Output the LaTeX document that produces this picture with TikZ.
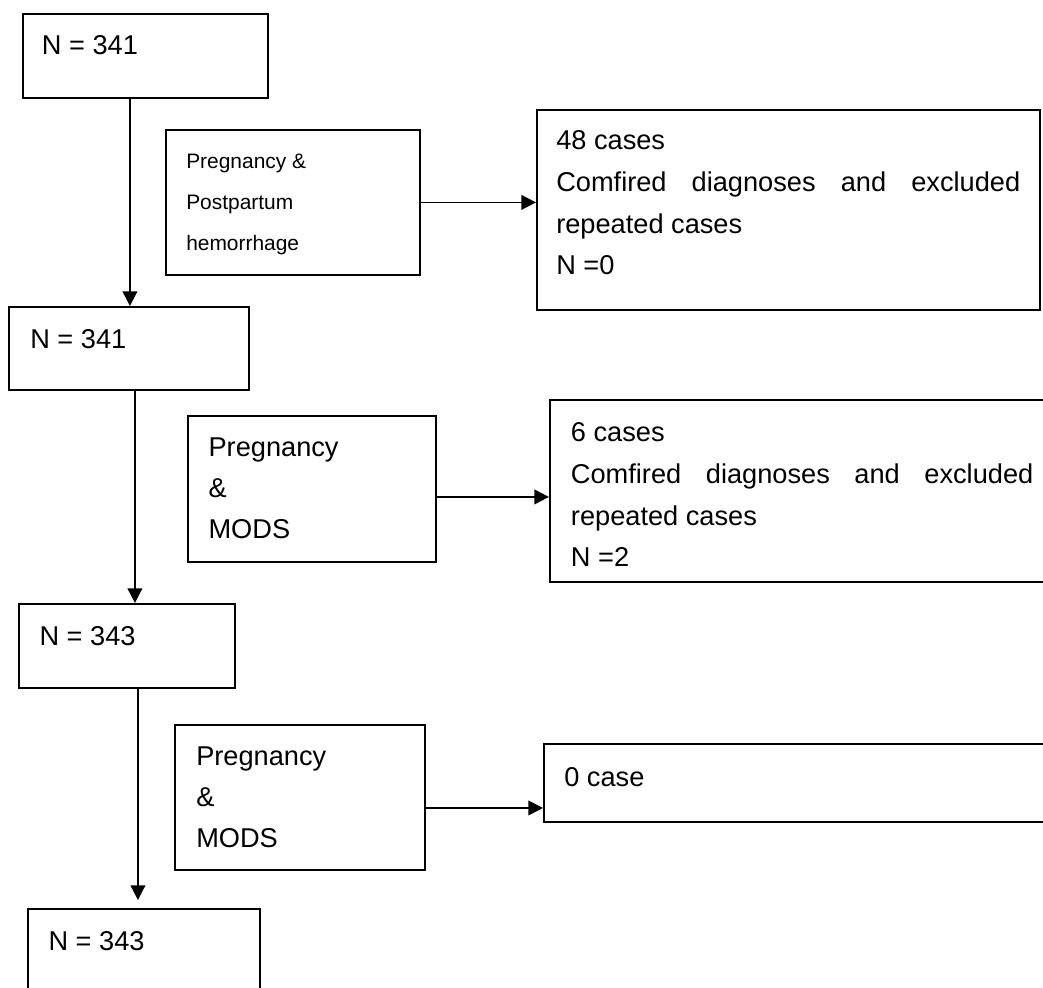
\documentclass[tikz,border=0pt]{standalone}
\usepackage{fontspec}
\setmainfont{Liberation Sans}
\usetikzlibrary{arrows.meta}
\begin{document}
\begin{tikzpicture}[x=0.75pt,y=-0.75pt,
  box/.style={draw,line width=1.4pt,anchor=north west,inner sep=0pt},
  txt/.style={anchor=base west,inner sep=0pt,font=\fontsize{20.4}{31}\selectfont},
  arr/.style={line width=1.3pt,-{Triangle[length=11pt,width=11pt]}}]
\useasboundingbox (0,0) rectangle (1043,988);
\clip (0,0) rectangle (1043,988);
% left column boxes
\node[box,minimum width=183.75pt,minimum height=63pt] (b1) at (22,13) {};
\node[box,minimum width=180pt,minimum height=62.25pt] (b2) at (8,306) {};
\node[box,minimum width=162pt,minimum height=63pt] (b3) at (18,603) {};
\node[box,minimum width=174pt,minimum height=69pt] (b4) at (27,908) {};
% middle boxes
\node[box,minimum width=190.5pt,minimum height=108.75pt] (p1) at (165,129) {};
\node[box,minimum width=186pt,minimum height=109.5pt] (p2) at (187,415) {};
\node[box,minimum width=187.5pt,minimum height=108.75pt] (p3) at (174,724) {};
% right boxes
\node[box,minimum width=377.25pt,minimum height=150pt] (r1) at (536,109) {};
\node[box,minimum width=375.75pt,minimum height=136.5pt] (r2) at (549,399) {};
\node[box,minimum width=380.25pt,minimum height=58.5pt] (r3) at (543,743) {};
% texts
\node[txt] (tb1) at (41.7,55) {N = 341};
\node[txt] (tb2) at (30,348.3) {N = 341};
\node[txt] (tb3) at (39.3,645) {N = 343};
\node[txt] (tb4) at (48.3,950) {N = 343};
\node[txt] (tp1) at (186,168.3) {\parbox[t]{180pt}{\fontsize{15.7}{30.75}\selectfont Pregnancy \&\\ Postpartum\\ hemorrhage}};
\node[txt] (tp2) at (208.3,456.7) {\parbox[t]{170pt}{\fontsize{20.4}{30.75}\selectfont Pregnancy\\ \&\\ MODS}};
\node[txt] (tp3) at (196,765) {\parbox[t]{170pt}{\fontsize{20.4}{30.75}\selectfont Pregnancy\\ \&\\ MODS}};
\node[txt] (tr1) at (556,150) {\parbox[t]{380pt}{\fontsize{20.4}{31.25}\selectfont 48 cases\\ \makebox[348pt][s]{Comfired diagnoses and excluded}\\ repeated cases\\ N =0}};
\node[txt] (tr2) at (570.7,441.7) {\parbox[t]{380pt}{\fontsize{20.4}{31.25}\selectfont 6 cases\\ \makebox[346.8pt][s]{Comfired diagnoses and excluded}\\ repeated cases\\ N =2}};
\node[txt] (tr3) at (564,786) {0 case};
% connectors
\draw[arr] ([xshift=-11.625pt]b1.south) -- ([xshift=-11.625pt]b1.south |- b2.north);
\draw[arr] ([xshift=4.5pt]b2.south) -- ([xshift=4.5pt]b2.south |- b3.north);
\draw[arr,shorten >=6pt] ([xshift=8.25pt]b3.south) -- ([xshift=8.25pt]b3.south |- b4.north);
\draw[arr] (p1.east) -- (p1.east -| r1.west);
\draw[arr] ([yshift=-6pt]p2.east) -- ([yshift=-6pt]p2.east -| r2.west);
\draw[arr] ([yshift=-7.9pt]p3.east) -- ([yshift=-7.9pt]p3.east -| r3.west);
\end{tikzpicture}
\end{document}
